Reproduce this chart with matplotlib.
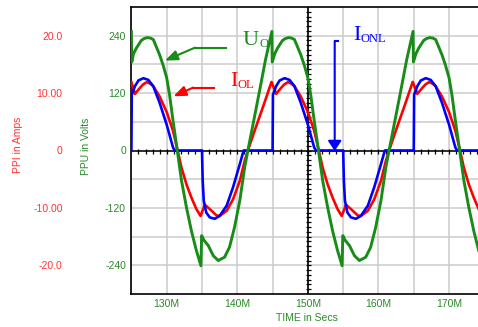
import numpy as np
import matplotlib
matplotlib.use("Agg")
import matplotlib.pyplot as plt

plt.rcParams['font.family'] = ['Liberation Sans', 'DejaVu Sans']

# U_O voltage (V)
t_u = [125.0, 125.05, 125.3, 125.7, 126.4, 126.8, 127.25, 127.7, 128.1, 129.0, 129.5, 130.0, 130.4, 130.9,
       131.5, 132.1, 132.8, 133.5, 134.2, 134.85, 134.95, 135.3, 135.9, 136.6, 137.3, 138.2,
       138.9, 139.6, 140.35, 141.05, 141.5, 142.3, 143.2, 144.0, 144.9,
       144.95, 145.3, 145.7, 146.4, 146.8, 147.25, 147.7, 148.1, 149.0, 149.5, 150.0, 150.4, 150.9,
       151.5, 152.1, 152.8, 153.5, 154.2, 154.85, 154.95, 155.3, 155.9, 156.6, 157.3, 158.2,
       158.9, 159.6, 160.35, 161.05, 161.5, 162.3, 163.2, 164.0, 164.9,
       164.95, 165.3, 165.7, 166.4, 166.8, 167.25, 167.7, 168.1, 169.0, 169.5, 170.0, 170.4, 170.9,
       171.5, 172.1, 172.8, 173.5, 174.2]
v_u = [249, 185, 202, 214, 230, 234, 236, 235, 232, 200, 178, 152, 117, 62,
       0, -63, -119, -168, -209, -241, -178, -188, -199, -220, -230, -223,
       -202, -161, -105, -35, 0, 60, 128, 190, 249,
       185, 202, 214, 230, 234, 236, 235, 232, 200, 178, 152, 117, 62,
       0, -63, -119, -168, -209, -241, -178, -188, -199, -220, -230, -223,
       -202, -161, -105, -35, 0, 60, 128, 190, 249,
       185, 202, 214, 230, 234, 236, 235, 232, 200, 178, 152, 117, 62,
       0, -63, -119, -168, -209]

# I_OL current (A)
t_ol = [125.0, 125.5, 126.2, 126.65, 127.15, 127.6, 128.1, 129.0, 130.0, 130.9, 131.55, 132.1, 132.8, 133.5,
        134.2, 134.8, 135.4, 136.1, 137.05, 137.5, 138.5, 139.4, 140.35, 141.05, 141.5, 142.5,
        143.7, 144.85,
        145.5, 146.2, 146.65, 147.15, 147.6, 148.1, 149.0, 150.0, 150.9, 151.55, 152.1, 152.8, 153.5,
        154.2, 154.8, 155.4, 156.1, 157.05, 157.5, 158.5, 159.4, 160.35, 161.05, 161.5, 162.5,
        163.7, 164.85,
        165.5, 166.2, 166.65, 167.15, 167.6, 168.1, 169.0, 170.0, 170.9, 171.55, 172.1, 172.8, 173.5, 174.2]
i_ol = [11.9, 9.86, 10.9, 11.5, 11.9, 11.7, 11.2, 9.4, 6.7, 3.4, 0, -3.0, -5.9, -8.2,
        -10.2, -11.4, -9.45, -10.2, -11.3, -11.4, -10.5, -8.5, -5.3, -1.8, 0, 3.6,
        7.8, 11.95,
        9.86, 10.9, 11.5, 11.9, 11.7, 11.2, 9.4, 6.7, 3.4, 0, -3.0, -5.9, -8.2,
        -10.2, -11.4, -9.45, -10.2, -11.3, -11.4, -10.5, -8.5, -5.3, -1.8, 0, 3.6,
        7.8, 11.95,
        9.86, 10.9, 11.5, 11.9, 11.7, 11.2, 9.4, 6.7, 3.4, 0, -3.0, -5.9, -8.2, -10.2]

# I_ONL current (A)
t_onl = [125.0, 125.05, 125.5, 126.0, 126.7, 127.4, 128.1, 129.0, 130.0, 130.9, 131.15,
         135.0, 135.1, 135.25, 135.6, 136.1, 136.8, 137.5, 138.5, 139.4, 140.35, 140.9, 145.0,
         145.05, 145.5, 146.0, 146.7, 147.4, 148.1, 149.0, 150.0, 150.9, 151.15,
         155.0, 155.1, 155.25, 155.6, 156.1, 156.8, 157.5, 158.5, 159.4, 160.35, 160.9, 165.0,
         165.05, 165.5, 166.0, 166.7, 167.4, 168.1, 169.0, 170.0, 170.9, 171.15, 174.2]
i_onl = [0, 9.7, 11.2, 12.2, 12.6, 12.3, 11.2, 8.3, 4.5, 0.5, 0,
         0, -5.3, -8.75, -10.8, -11.65, -11.9, -11.4, -9.6, -6.4, -2.4, 0, 0,
         9.7, 11.2, 12.2, 12.6, 12.3, 11.2, 8.3, 4.5, 0.5, 0,
         0, -5.3, -8.75, -10.8, -11.65, -11.9, -11.4, -9.6, -6.4, -2.4, 0, 0,
         9.7, 11.2, 12.2, 12.6, 12.3, 11.2, 8.3, 4.5, 0.5, 0, 0]

x_ticks = [125, 130, 135, 140, 145, 150, 155, 160, 165, 170]
x_labels = ['', '130M', '', '140M', '', '150M', '', '160M', '', '170M']
v_ticks = [-240, -180, -120, -60, 0, 60, 120, 180, 240]
v_labels = ['-240', '', '-120', '', '0', '', '120', '', '240']
a_ticks = [-20, -10, 0, 10, 20]
a_labels = ['-20.0', '-10.00', '0', '10.00', '20.0']

green = '#178c17'
red = '#ff0000'
blue = '#0000ff'
W, H = 478, 327

fig = plt.figure(figsize=(W / 100, H / 100), dpi=100)
ax = fig.add_axes([131.4 / W, 1 - 294 / H, 1 - 131.4 / W, (294 - 7) / H])
ax.set_xlim(125, 174.1)
ax.set_ylim(-300, 300)
ax.set_xticks(x_ticks)
ax.set_xticklabels(x_labels)
ax.set_yticks(v_ticks)
ax.set_yticklabels(v_labels)
ax.tick_params(length=0, labelsize=7.5, labelcolor='#2a8a2a')
ax.tick_params(axis='x', pad=3.5)
ax.tick_params(axis='y', pad=3.9)
ax.grid(True, color='#cccccc', lw=1.1)
ax.set_axisbelow(True)
ax.spines['right'].set_visible(False)
for s in ['left', 'top', 'bottom']:
    ax.spines[s].set_linewidth(1.2)

# axes through the origin with little ticks
ax.axhline(0, color='black', lw=1.1, zorder=1)
ax.axvline(150, color='black', lw=1.2, zorder=1)
ax.plot(np.arange(126, 175, 1), np.zeros(49), ls='none', marker='|', ms=3.6, mew=0.9, color='black', zorder=1)
ax.plot(np.full(59, 150.0), np.arange(-290, 300, 10), ls='none', marker='_', ms=3.6, mew=0.9, color='black', zorder=1)

ax2 = ax.twinx()
ax2.yaxis.tick_left()
ax2.set_yticks(a_ticks)
ax2.set_yticklabels(a_labels)
ax2.tick_params(axis='y', length=0, pad=49.5, labelsize=7.5, labelcolor='#ff3333')
for s in ax2.spines.values():
    s.set_visible(False)

ax2.plot(t_ol, i_ol, color=red, lw=1.9, solid_joinstyle='round')
ax2.plot(t_onl, i_onl, color=blue, lw=1.9, solid_joinstyle='round')
ax2.plot(t_u, v_u, color=green, lw=2.1, solid_joinstyle='round', transform=ax.transData)
ax2.set_ylim(-25, 25)
ax2.set_xlim(125, 174.1)

# annotation arrows (in volt coordinates)
ax.plot([138.4, 134.0], [215, 215], color=green, lw=1.5)
ax.annotate('', xy=(129.75, 188), xytext=(134.0, 215),
            arrowprops=dict(arrowstyle='-|>,head_length=0.75,head_width=0.3', color=green, lw=1.5,
                            shrinkA=0, shrinkB=0, mutation_scale=10))
ax.plot([136.7, 133.75], [131.5, 131.5], color=red, lw=1.5)
ax.annotate('', xy=(130.95, 113.3), xytext=(133.75, 131.5),
            arrowprops=dict(arrowstyle='-|>,head_length=0.75,head_width=0.3', color=red, lw=1.5,
                            shrinkA=0, shrinkB=0, mutation_scale=10))
ax.plot([154.2, 153.8], [228, 228], color=blue, lw=1.5)
ax.annotate('', xy=(153.8, -1), xytext=(153.8, 228),
            arrowprops=dict(arrowstyle='-|>,head_length=0.6,head_width=0.4', color=blue, lw=1.5,
                            shrinkA=0, shrinkB=0, mutation_scale=10))

serif = ['Liberation Serif', 'DejaVu Serif']
fig.text(242.5 / W, 1 - 45 / H, 'U', color=green, fontsize=16, family=serif, va='baseline')
fig.text(259 / W, 1 - 47 / H, 'O', color=green, fontsize=9, family=serif, va='baseline')
fig.text(230 / W, 1 - 86 / H, 'I', color=red, fontsize=16, family=serif, va='baseline')
fig.text(237.8 / W, 1 - 87.5 / H, 'OL', color=red, fontsize=9, family=serif, va='baseline')
fig.text(353 / W, 1 - 40 / H, 'I', color=blue, fontsize=16, family=serif, va='baseline')
fig.text(360.8 / W, 1 - 42 / H, 'ONL', color=blue, fontsize=9, family=serif, va='baseline')

fig.text(86 / W, 1 - 146 / H, 'PPU in Volts', color='#2a8a2a', fontsize=7.5, rotation=90, ha='center', va='center')
fig.text(18 / W, 1 - 145 / H, 'PPI in Amps', color='#ff3333', fontsize=7.5, rotation=90, ha='center', va='center')
fig.text(306.7 / W, 1 - 318 / H, 'TIME in Secs', color='#2a8a2a', fontsize=7.5, ha='center', va='center')

fig.savefig('out.png', dpi=100)
